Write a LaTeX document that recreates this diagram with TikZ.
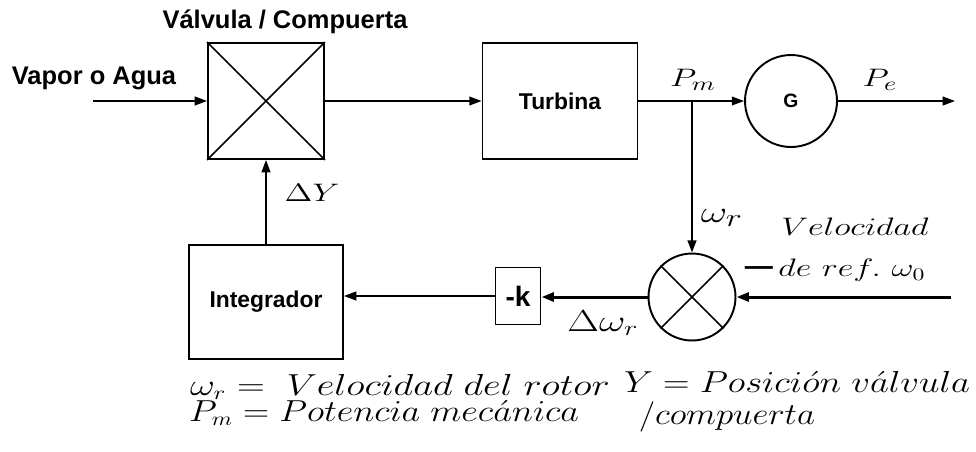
\documentclass[tikz,border=0pt]{standalone}
\usepackage{amsmath,amssymb}
\usepackage{graphicx}
\usepackage{fontspec}
\usepackage{tikz}
\usetikzlibrary{shapes.geometric,arrows.meta,positioning}
\newfontfamily\blocksans{Liberation Sans}
\newcommand{\widemath}[1]{\scalebox{1.35}[1]{$#1$}}
\newcommand{\fitmath}[2]{\resizebox{#1}{\height}{$#2$}}
\tikzstyle{block}=[rectangle, draw, line width=1.1pt, inner sep=0pt,
  font=\blocksans\bfseries\fontsize{13}{15}\selectfont]
\tikzstyle{junction}=[circle, draw, line width=1.1pt, inner sep=0pt,
  font=\blocksans\bfseries\fontsize{11}{13}\selectfont]
\tikzstyle{caption}=[font=\blocksans\bfseries\fontsize{14.5}{16}\selectfont, inner sep=1pt]
\tikzstyle{mathlbl}=[font=\fontsize{15}{17}\selectfont, inner sep=1pt]
\tikzstyle{legend}=[font=\fontsize{16}{18}\selectfont, inner sep=1pt, anchor=base west]
\tikzstyle{arrow}=[-{Triangle[length=7pt,width=5pt]}, line width=0.9pt]
\tikzstyle{heavyarrow}=[-{Triangle[length=7pt,width=5pt]}, line width=1.7pt]
\begin{document}
\begin{tikzpicture}[x=0.02cm, y=-0.02cm]

    \useasboundingbox (0,0) rectangle (976,451);

    % Top row: valve, turbine and generator
    \node[block, minimum width=2.32cm, minimum height=2.32cm] (valve) at (266,101) {};
    \draw[line width=0.9pt] (valve.north west) -- (valve.south east);
    \draw[line width=0.9pt] (valve.south west) -- (valve.north east);
    \node[caption] (valvetitle) at (285,22) {Válvula / Compuerta};
    \node[caption] (steam) at (94,78) {Vapor o Agua};
    \coordinate (vin) at (93,101);
    \node[block, minimum width=3.1cm, minimum height=2.32cm] (turb) at (560,101) {Turbina};
    \node[junction, minimum size=1.84cm] (gen) at (791,101) {G};
    \coordinate (tap) at (692,101);
    \coordinate (pout) at (955,101);
    \node[mathlbl] (pm) at (693,80) {\widemath{P_m}};
    \node[mathlbl, font=\fontsize{15.5}{17}\selectfont] (pe) at (880,80) {\widemath{P_e}};

    % Bottom row: summing point, gain and integrator
    \node[junction, minimum size=1.74cm] (sum) at (692,297) {};
    \draw[line width=0.9pt] (sum.north west) -- (sum.south east);
    \draw[line width=0.9pt] (sum.south west) -- (sum.north east);
    \node[block, minimum width=0.9cm, minimum height=1.14cm,
      font=\blocksans\bfseries\fontsize{16}{18}\selectfont] (negk) at (518,296) {-k};
    \node[block, minimum width=3.08cm, minimum height=2.28cm] (integ) at (266,302) {Integrador};
    \coordinate (wref) at (951,297);
    \node[mathlbl, font=\fontsize{19}{21}\selectfont] (wr) at (722,218) {\widemath{\omega_r}};
    \node[mathlbl, font=\fontsize{14.5}{17}\selectfont] (vel) at (855,227) {\widemath{Velocidad}};
    \node[mathlbl, font=\fontsize{13.8}{16}\selectfont] (ref) at (852,270) {\widemath{de\ ref.\ \omega_0}};
    \node[mathlbl, font=\blocksans\bfseries\fontsize{16}{16}\selectfont] (minus) at (759,271) {—};
    \node[mathlbl, font=\fontsize{16.5}{19}\selectfont] (dw) at (603,323) {\widemath{\Delta\omega_r}};
    \node[mathlbl] (dy) at (312,193) {\widemath{\Delta Y}};

    % Legend
    \node[legend] (legw) at (188,395) {\fitmath{8.4cm}{\omega_r =\ Velocidad\ del\ rotor}};
    \node[legend] (legp) at (187,421) {\fitmath{7.8cm}{P_m = Potencia\ mec\acute{a}nica}};
    \node[legend] (legy) at (622,392) {\fitmath{6.92cm}{Y = Posici\acute{o}n\ v\acute{a}lvula}};
    \node[legend] (legc) at (637,424) {\fitmath{3.52cm}{/compuerta}};

    \draw[arrow] (vin) -- (valve.west);
    \draw[arrow] (valve.east) -- (turb.west);
    \draw[arrow] (turb.east) -- (gen.west);
    \draw[arrow] (gen.east) -- (pout);
    \draw[arrow, line width=1.2pt] (tap) -- (sum.north);
    \draw[heavyarrow] (wref) -- (sum.east);
    \draw[heavyarrow] (sum.west) -- (sum.west -| negk.east);
    \draw[arrow] (negk.west) -- (negk.west -| integ.east);
    \draw[arrow] (integ.north) -- (valve.south);

  \end{tikzpicture}
\end{document}
